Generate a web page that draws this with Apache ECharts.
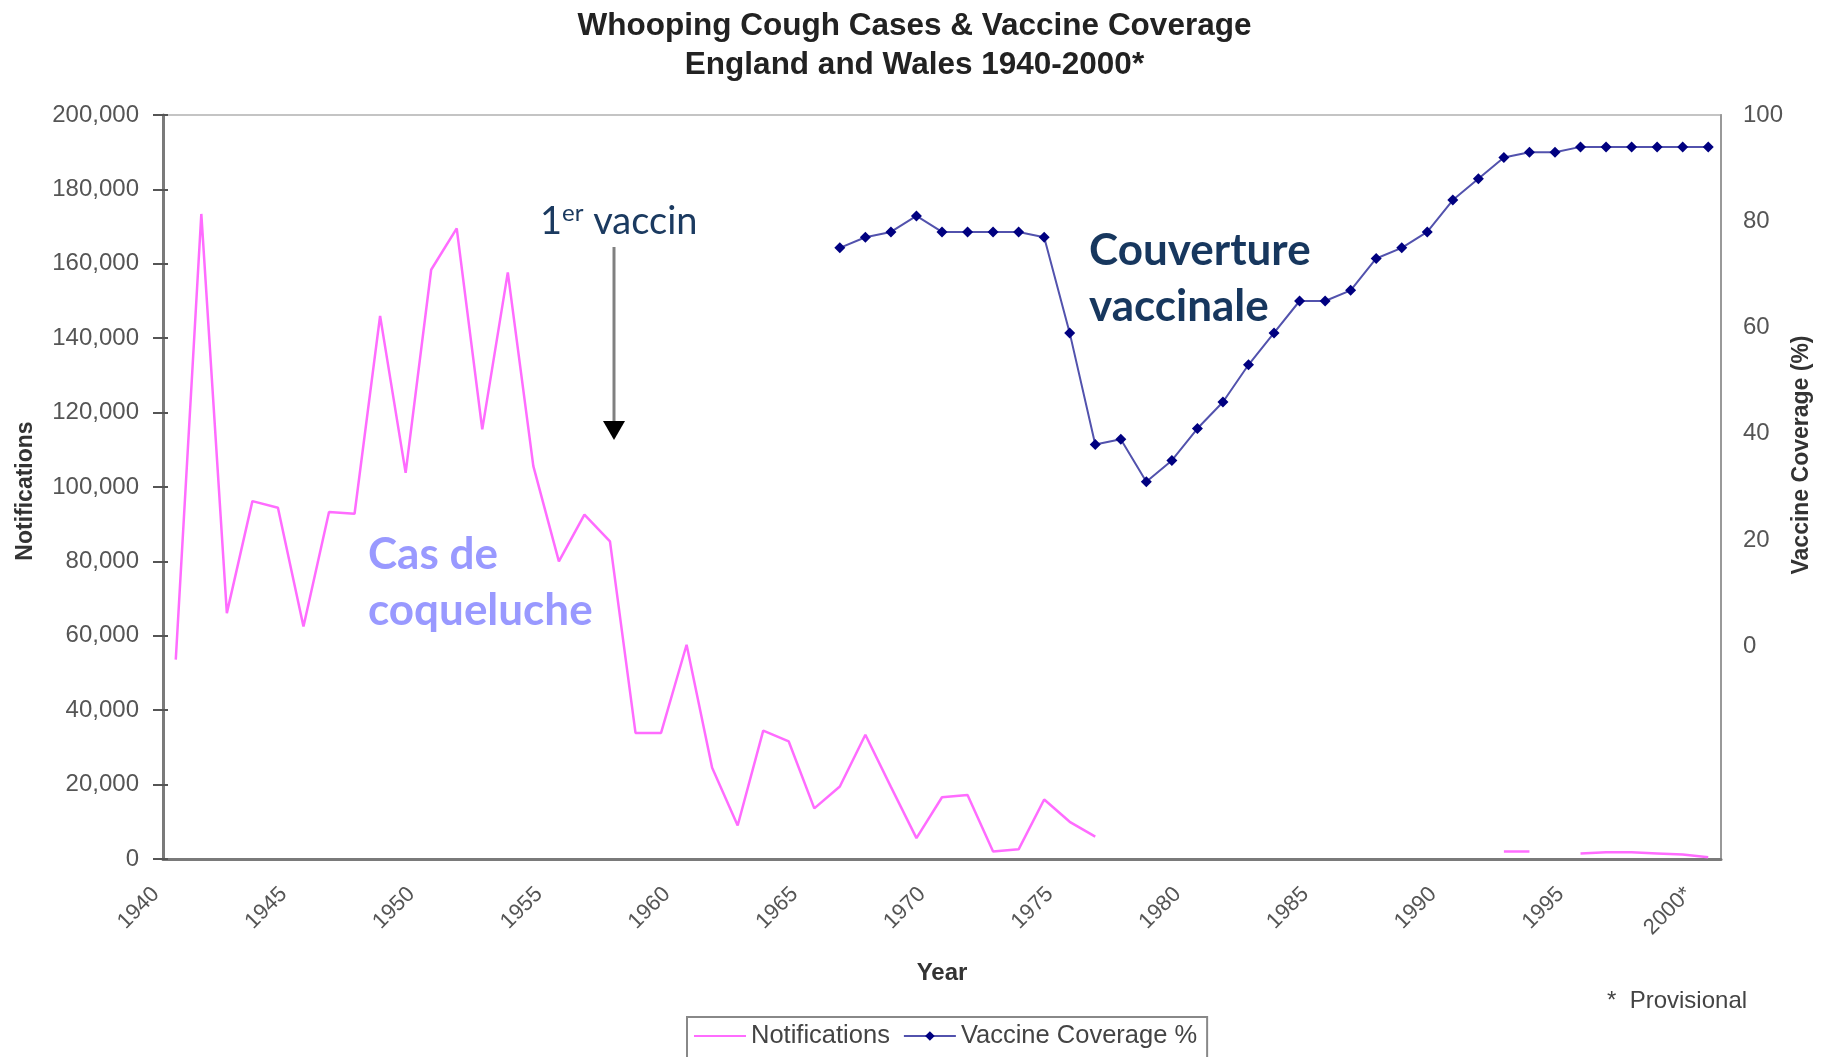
<!DOCTYPE html>
<html>
<head>
<meta charset="utf-8">
<title>Whooping Cough Cases & Vaccine Coverage</title>
<script src="https://cdn.jsdelivr.net/npm/echarts/dist/echarts.min.js"></script>
<style>
  html, body { margin: 0; padding: 0; background: #fff; }
  #chart { width: 1829px; height: 1057px; }
</style>
</head>
<body>
<div id="chart"></div>
<script>
// years on the category axis
const years = [
  '1940', '1941', '1942', '1943', '1944', '1945', '1946', '1947', '1948', '1949',
  '1950', '1951', '1952', '1953', '1954', '1955', '1956', '1957', '1958', '1959',
  '1960', '1961', '1962', '1963', '1964', '1965', '1966', '1967', '1968', '1969',
  '1970', '1971', '1972', '1973', '1974', '1975', '1976', '1977', '1978', '1979',
  '1980', '1981', '1982', '1983', '1984', '1985', '1986', '1987', '1988', '1989',
  '1990', '1991', '1992', '1993', '1994', '1995', '1996', '1997', '1998', '1999',
  '2000'
];

// whooping cough notifications (left axis)
const notifications = [
  53600, 173400, 66100, 96200, 94400, 62500, 93300, 92800, 146000, 103800,
  158400, 169500, 115500, 157700, 105600, 80000, 92600, 85400, 33900, 33900,
  57600, 24500, 9000, 34500, 31600, 13600, 19500, 33400, 19400, 5600,
  16600, 17200, 2000, 2600, 16000, 10000, 6000, null, null, null,
  null, null, null, null, null, null, null, null, null, null,
  null, null, 2000, 2000, null, 1500, 1800, 1800, 1500, 1200,
  500
];

// vaccine coverage in % (right axis)
const coverage = [
  null, null, null, null, null, null, null, null, null, null,
  null, null, null, null, null, null, null, null, null, null,
  null, null, null, null, null, null, 75, 77, 78, 81,
  78, 78, 78, 78, 77, 59, 38, 39, 31, 35,
  41, 46, 53, 59, 65, 65, 67, 73, 75, 78,
  84, 88, 92, 93, 93, 94, 94, 94, 94, 94,
  94
];

const provisionalYear = '2000';

const labelColor = '#555';
const axisColor = '#7a7a7a';
const sans = '"Liberation Sans", Arial, sans-serif';
const calibriLike = 'Lato, "Open Sans", sans-serif';

let chartDom = document.getElementById('chart');
let myChart = echarts.init(chartDom);

let option = {
  animation: false,
  title: {
    text: 'Whooping Cough Cases & Vaccine Coverage\nEngland and Wales 1940-2000*',
    left: 'center',
    top: 2,
    textStyle: {
      fontFamily: sans,
      fontSize: 31.5,
      fontWeight: 'bold',
      color: '#222',
      lineHeight: 39
    }
  },
  legend: {
    left: 687,
    top: 1017,
    padding: [6, 10, 10, 6],
    itemGap: 13,
    itemWidth: 52,
    itemHeight: 12,
    borderColor: '#888',
    borderWidth: 2,
    textStyle: {
      fontFamily: sans,
      fontSize: 25.5,
      color: '#444'
    },
    data: [
      { name: 'Notifications', itemStyle: { opacity: 0 } },
      'Vaccine Coverage %'
    ]
  },
  grid: {
    left: 163,
    right: 108,
    top: 115,
    bottom: 198,
    show: true,
    borderColor: '#c4c4c4',
    borderWidth: 2
  },
  xAxis: [
    {
      type: 'category',
      data: years,
      boundaryGap: true,
      name: 'Year',
      nameLocation: 'middle',
      nameGap: 102,
      nameTextStyle: {
        fontFamily: sans,
        fontSize: 24,
        fontWeight: 'bold',
        color: '#333'
      },
      axisLine: { lineStyle: { color: axisColor, width: 3 } },
      axisTick: { interval: 0, length: 8, lineStyle: { color: '#555', width: 2 } },
      axisLabel: {
        interval: 4,
        rotate: 45,
        margin: 12,
        padding: [0, 28, 0, 0],
        fontFamily: sans,
        fontSize: 22,
        color: labelColor,
        formatter: function (v) { return v === provisionalYear ? v + '*' : v; }
      },
      splitLine: { show: false }
    },
    {
      // second copy only for the inner half of the crossing ticks
      type: 'category',
      data: years,
      boundaryGap: true,
      position: 'bottom',
      axisLine: { show: false },
      axisTick: { interval: 0, inside: true, length: 7, lineStyle: { color: '#555', width: 2 } },
      axisLabel: { show: false },
      splitLine: { show: false }
    }
  ],
  yAxis: [
    {
      type: 'value',
      min: 0,
      max: 200000,
      interval: 20000,
      axisLine: { show: true, lineStyle: { color: axisColor, width: 3 } },
      axisTick: { show: true, length: 10, lineStyle: { color: '#555', width: 2 } },
      axisLabel: {
        margin: 24,
        fontFamily: sans,
        fontSize: 24,
        color: labelColor,
        formatter: function (v) { return v.toLocaleString('en-US'); }
      },
      splitLine: { show: false }
    },
    {
      type: 'value',
      position: 'right',
      min: -40,
      max: 100,
      interval: 20,
      axisLine: { show: true, lineStyle: { color: '#999', width: 2 } },
      axisTick: { show: false },
      axisLabel: {
        margin: 22,
        fontFamily: sans,
        fontSize: 24,
        color: labelColor,
        formatter: function (v) { return v < 0 ? '' : String(v); }
      },
      splitLine: { show: false }
    },
    {
      type: 'value',
      position: 'left',
      min: 0,
      max: 200000,
      interval: 20000,
      axisLine: { show: false },
      axisTick: { show: true, inside: true, length: 5, lineStyle: { color: '#555', width: 2 } },
      axisLabel: { show: false },
      splitLine: { show: false }
    }
  ],
  series: [
    {
      name: 'Notifications',
      type: 'line',
      xAxisIndex: 0,
      yAxisIndex: 0,
      data: notifications,
      symbol: 'none',
      connectNulls: false,
      itemStyle: { color: '#ff6cff' },
      lineStyle: { color: '#ff6cff', width: 2.5 }
    },
    {
      name: 'Vaccine Coverage %',
      type: 'line',
      xAxisIndex: 0,
      yAxisIndex: 1,
      data: coverage,
      symbol: 'diamond',
      symbolSize: 11,
      connectNulls: false,
      itemStyle: { color: '#000080' },
      lineStyle: { color: '#5252ad', width: 2 }
    }
  ],
  graphic: [
    {
      type: 'text',
      x: 26, y: 491,
      rotation: Math.PI / 2,
      style: {
        text: 'Notifications',
        font: 'bold 23px ' + sans,
        fill: '#333',
        align: 'center',
        verticalAlign: 'middle'
      }
    },
    {
      type: 'text',
      x: 1802, y: 455,
      rotation: Math.PI / 2,
      style: {
        text: 'Vaccine Coverage (%)',
        font: 'bold 23px ' + sans,
        fill: '#333',
        align: 'center',
        verticalAlign: 'middle'
      }
    },
    {
      type: 'text',
      x: 540, y: 222,
      style: {
        text: '{n|1}{s|er}{n| vaccin}',
        verticalAlign: 'middle',
        rich: {
          n: { fontFamily: calibriLike, fontSize: 38, lineHeight: 46, fill: '#1b3a60' },
          s: { fontFamily: calibriLike, fontSize: 24, lineHeight: 46, verticalAlign: 'top', fill: '#1b3a60', padding: [2, 0, 0, 0] }
        }
      }
    },
    {
      type: 'line',
      shape: { x1: 614, y1: 247, x2: 614, y2: 424 },
      style: { stroke: '#808080', lineWidth: 3 }
    },
    {
      type: 'polygon',
      shape: { points: [[603, 421], [625, 421], [614, 440]] },
      style: { fill: '#000' }
    },
    {
      type: 'text',
      x: 368, y: 527,
      style: {
        text: 'Cas de\ncoqueluche',
        font: 'bold 44px ' + calibriLike,
        lineHeight: 56,
        fill: '#9999ff'
      }
    },
    {
      type: 'text',
      x: 1089, y: 223,
      style: {
        text: 'Couverture\nvaccinale',
        font: 'bold 44px ' + calibriLike,
        lineHeight: 56,
        fill: '#17375e'
      }
    },
    {
      type: 'text',
      x: 1607, y: 1001,
      style: {
        text: '*  Provisional',
        font: '24px ' + sans,
        fill: '#444',
        verticalAlign: 'middle'
      }
    }
  ]
};

option && myChart.setOption(option);
</script>
</body>
</html>
